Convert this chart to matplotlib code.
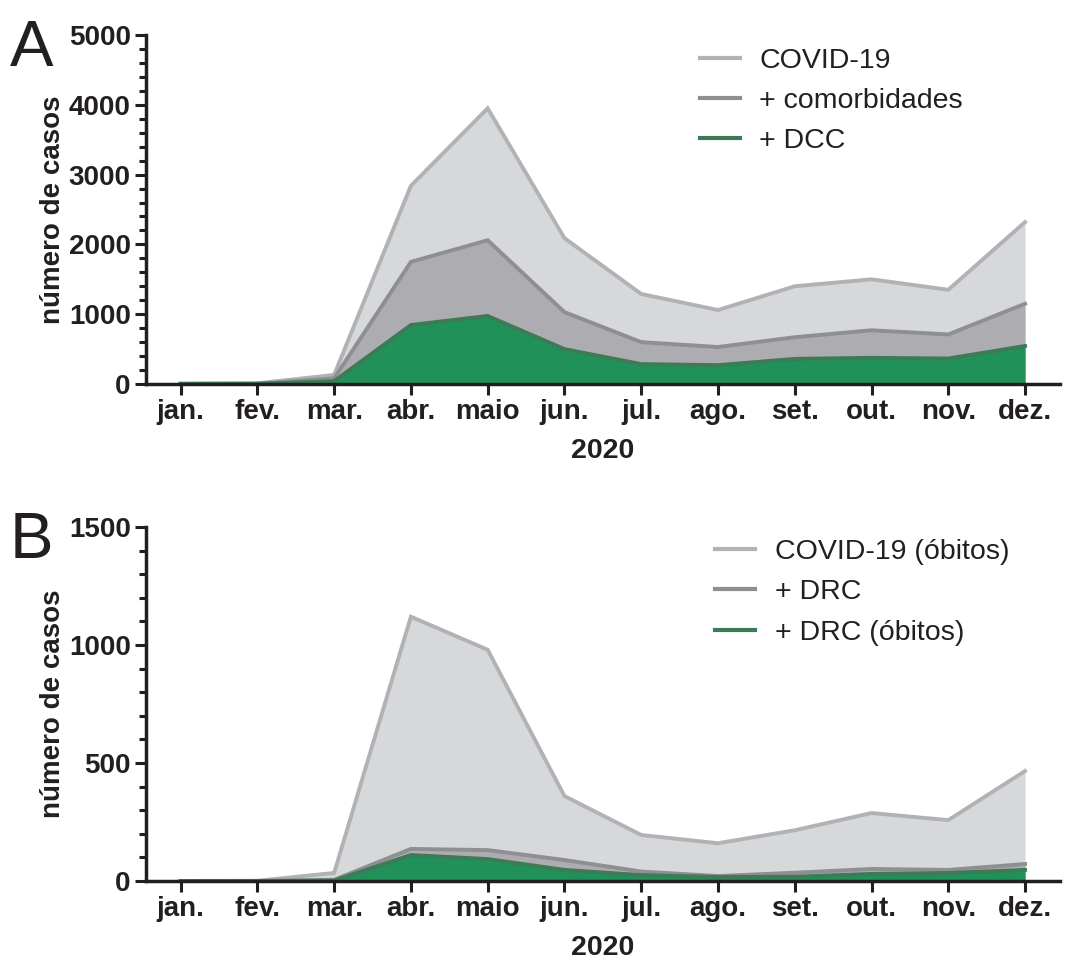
import matplotlib.pyplot as plt
from matplotlib.ticker import MultipleLocator

months = ["jan.", "fev.", "mar.", "abr.", "maio", "jun.", "jul.",
          "ago.", "set.", "out.", "nov.", "dez."]

# Panel A: casos
covid_casos = [5, 10, 130, 2840, 3950, 2090, 1290, 1060, 1400, 1500, 1350, 2320]
comorb_casos = [3, 5, 80, 1750, 2060, 1030, 600, 530, 670, 770, 710, 1150]
dcc_casos = [2, 3, 40, 845, 975, 500, 285, 270, 360, 375, 365, 545]

# Panel B: óbitos
covid_obitos = [0, 1, 34, 1120, 980, 360, 195, 160, 215, 288, 258, 466]
drc_casos = [0, 0, 5, 136, 131, 89, 40, 21, 35, 51, 47, 72]
drc_obitos = [0, 0, 2, 110, 93, 47, 25, 17, 18, 30, 34, 47]

plt.rcParams['font.family'] = ['Liberation Sans', 'DejaVu Sans']

light_fill, light_line = "#d7d8da", "#b1b2b5"
mid_fill, mid_line = "#adadb1", "#8e8f93"
green_fill, green_line = "#21915a", "#3d7a56"
ink = "#231f20"

fig = plt.figure(figsize=(10.66, 9.6), dpi=100)
axA = fig.add_axes([0.137, 0.600, 0.857, 0.3635])
axB = fig.add_axes([0.137, 0.0823, 0.857, 0.3687])

x = list(range(len(months)))


def draw_panel(ax, series, labels, ymax, major, minor, letter, leg_x, leg_y):
    fills = [light_fill, mid_fill, green_fill]
    lines = [light_line, mid_line, green_line]
    for vals, fc, lc, lab in zip(series, fills, lines, labels):
        ax.fill_between(x, 0, vals, color=fc, lw=0)
        ax.plot(x, vals, color=lc, lw=2.8, label=lab, solid_joinstyle='miter')
    ax.set_xlim(-0.45, 11.45)
    ax.set_ylim(0, ymax)
    ax.set_xticks(x)
    ax.set_xticklabels(months)
    ax.yaxis.set_major_locator(MultipleLocator(major))
    ax.yaxis.set_minor_locator(MultipleLocator(minor))
    for s in ["top", "right"]:
        ax.spines[s].set_visible(False)
    for s in ["left", "bottom"]:
        ax.spines[s].set_linewidth(2.5)
        ax.spines[s].set_color(ink)
    ax.tick_params(axis='both', which='major', length=8, width=2.2,
                   labelsize=20, color=ink, pad=3)
    ax.tick_params(axis='y', which='minor', length=5, width=2.2, color=ink)
    for t in ax.get_xticklabels() + ax.get_yticklabels():
        t.set_fontweight('bold')
        t.set_color(ink)
    ax.set_ylabel("número de casos", fontsize=20, fontweight='bold',
                  labelpad=2, color=ink)
    ax.set_xlabel("2020", fontsize=20.5, fontweight='bold', labelpad=9, color=ink)
    leg = ax.legend(loc='upper left', bbox_to_anchor=(leg_x, leg_y), frameon=False,
                    fontsize=20.5, handlelength=1.4, handletextpad=0.7,
                    labelspacing=0.5, borderpad=0, borderaxespad=0)
    for h in leg.get_lines():
        h.set_linewidth(3)
    for t in leg.get_texts():
        t.set_color(ink)
    ax.text(-0.149, 1.045, letter, transform=ax.transAxes, fontsize=47,
            va='top', ha='left', color=ink)


draw_panel(axA, [covid_casos, comorb_casos, dcc_casos],
           ["COVID-19", "+ comorbidades", "+ DCC"], 5000, 1000, 200, "A",
           0.606, 0.963)
draw_panel(axB, [covid_obitos, drc_casos, drc_obitos],
           ["COVID-19 (óbitos)", "+ DRC", "+ DRC (óbitos)"], 1500, 500, 100, "B",
           0.6225, 0.966)

fig.savefig("out.png", dpi=100)
